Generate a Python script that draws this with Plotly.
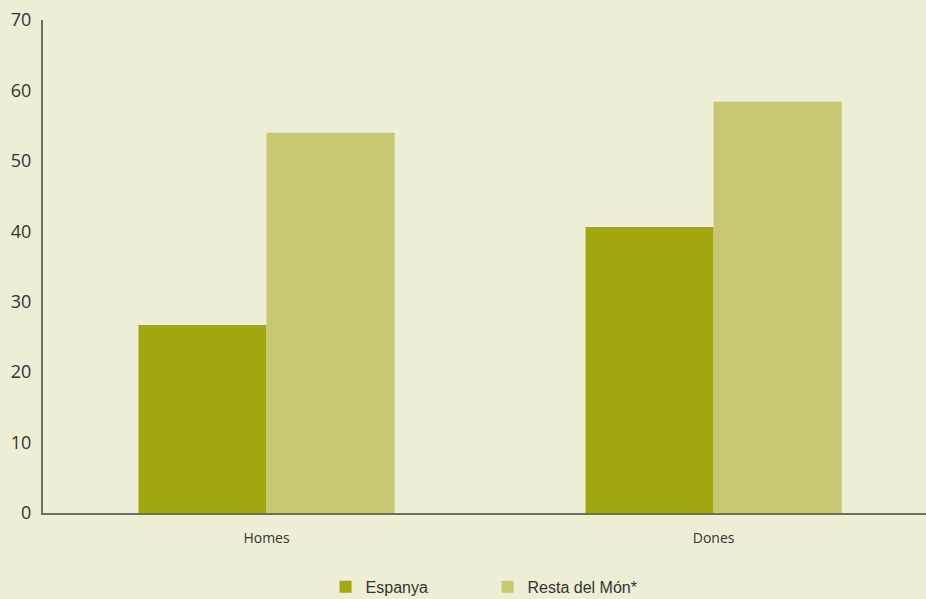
import plotly.graph_objects as go

categories = ["Homes", "Dones"]
espanya = [26.7, 40.6]
resta = [54.0, 58.4]
series_names = ["Espanya", "Resta del Món*"]
y_ticks = [0, 10, 20, 30, 40, 50, 60, 70]

BG = "#EEEDD5"
fig = go.Figure()
fig.add_trace(go.Bar(x=categories, y=espanya, name=series_names[0],
                     marker=dict(color="#A3A70F", line=dict(width=0))))
fig.add_trace(go.Bar(x=categories, y=resta, name=series_names[1],
                     marker=dict(color="#C8C773", line=dict(width=0))))

fig.update_layout(
    width=926, height=599,
    margin=dict(l=43, r=0, t=20, b=86, autoexpand=False),
    paper_bgcolor=BG, plot_bgcolor=BG,
    barmode="group", bargap=0.427, bargroupgap=0,
    showlegend=True,
    legend=dict(orientation="h", x=0.32, y=-0.15, xanchor="left", yanchor="middle",
                entrywidth=117, entrywidthmode="pixels",
                font=dict(family="Liberation Sans", size=16, color="#333333"),
                bgcolor="rgba(0,0,0,0)"),
    xaxis=dict(range=[-0.5, 1.475], showline=True, linecolor="#6E6E62", linewidth=2,
               ticks="", showgrid=False, zeroline=False, ticklabelstandoff=11,
               tickfont=dict(family="Open Sans", size=14, color="#333333")),
    yaxis=dict(range=[0, 70], tickvals=y_ticks, showline=True, linecolor="#6E6E62",
               linewidth=2, ticks="", showgrid=False, zeroline=False, ticklabelstandoff=6,
               tickfont=dict(family="Open Sans", size=18, color="#333333")),
)
fig.write_html("out.html", config={"displayModeBar": False})
with open("out.html", encoding="utf-8") as f:
    html = f.read()
html = html.replace("<head>", "<head><style>html,body{margin:0;padding:0;background:%s;}</style>" % BG, 1)
with open("out.html", "w", encoding="utf-8") as f:
    f.write(html)
